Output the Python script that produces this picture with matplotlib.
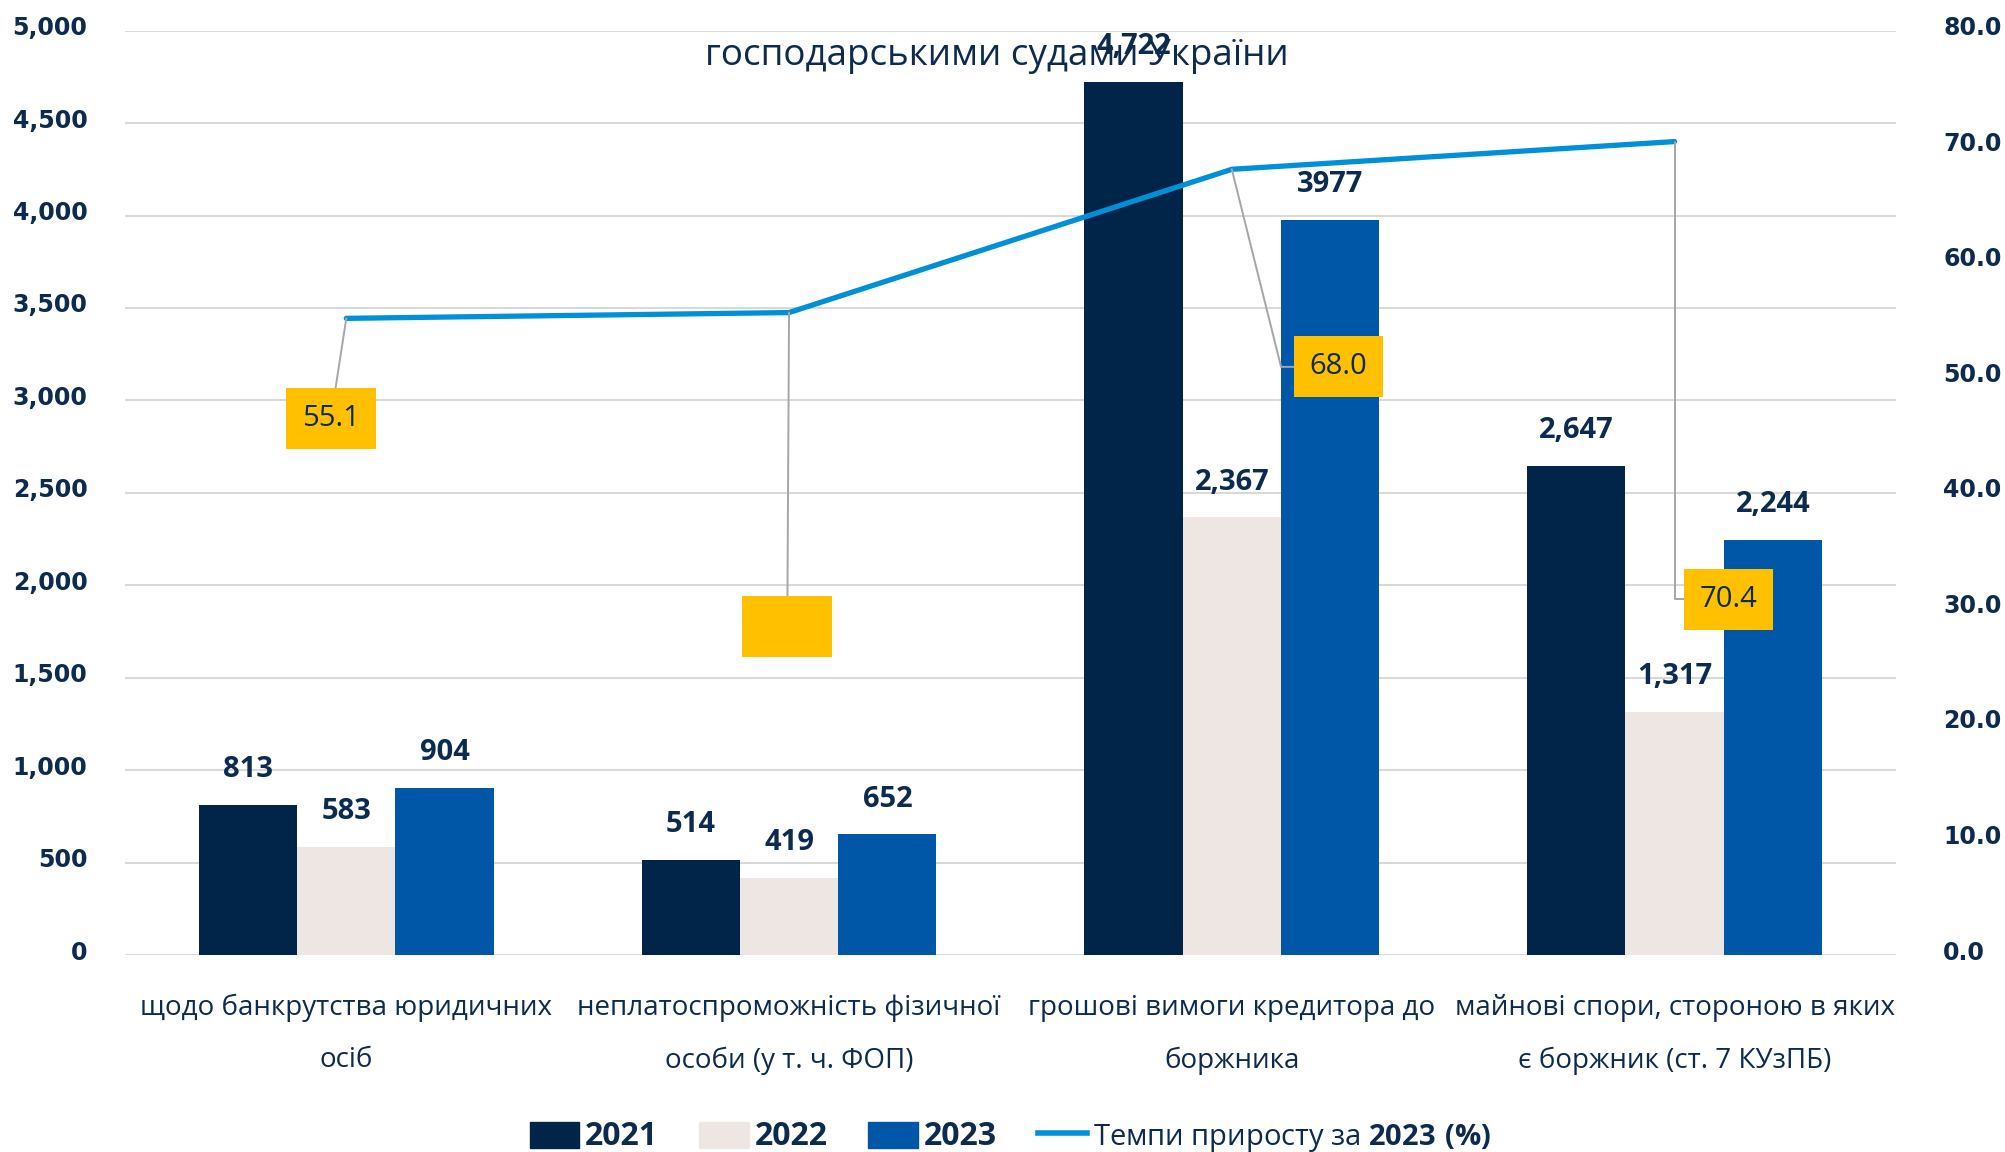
import numpy as np
import matplotlib.pyplot as plt
import matplotlib.transforms as mtransforms
from matplotlib.patches import Patch
from matplotlib.lines import Line2D

# data
categories = [
    "щодо банкрутства юридичних\nосіб",
    "неплатоспроможність фізичної\nособи (у т. ч. ФОП)",
    "грошові вимоги кредитора до\nборжника",
    "майнові спори, стороною в яких\nє боржник (ст. 7 КУзПБ)",
]
years = ["2021", "2022", "2023"]
v2021 = [813, 514, 4722, 2647]
v2022 = [583, 419, 2367, 1317]
v2023 = [904, 652, 3977, 2244]
lab2021 = ["813", "514", "4,722", "2,647"]
lab2022 = ["583", "419", "2,367", "1,317"]
lab2023 = ["904", "652", "3977", "2,244"]
growth = [55.1, 55.6, 68.0, 70.4]
growth_labels = ["55.1", "55.6", "68.0", "70.4"]
growth_label_shown = [True, False, True, True]
line_name = "Темпи приросту за $\\mathbf{2023\\ (\\%)}$"
title = "господарськими судами України"

# styles
NAVY = "#0D2B4E"
C2021 = "#002549"
C2022 = "#EEE6E2"
C2023 = "#0057A8"
CLINE = "#0090D8"
YELLOW = "#FFC000"
GRID = "#D9D9D9"
FONT = "Open Sans"

plt.rcParams["font.family"] = [FONT, "DejaVu Sans"]
plt.rcParams["mathtext.fontset"] = "custom"
plt.rcParams["mathtext.rm"] = FONT
plt.rcParams["mathtext.bf"] = FONT + ":bold"

fig = plt.figure(figsize=(20.05, 11.52), dpi=100)
ax = fig.add_axes([0.0623, 0.171, 0.8833, 0.8024])
ax2 = ax.twinx()

x = np.arange(len(categories))
w = 0.222
series = [(v2021, lab2021, C2021), (v2022, lab2022, C2022), (v2023, lab2023, C2023)]
for i, (vals, labs, col) in enumerate(series):
    bars = ax.bar(x + (i - 1) * w, vals, w, color=col, zorder=2)
    for b, lab in zip(bars, labs):
        ax.annotate(lab, (b.get_x() + b.get_width() / 2, b.get_height()),
                    xytext=(0, 15), textcoords="offset points",
                    ha="center", va="bottom", fontsize=21,
                    fontweight="bold", color=NAVY, zorder=3)

ax.set_xlim(-0.5, len(categories) - 0.5)
ax.set_ylim(0, 5000)
ax.set_yticks(np.arange(0, 5001, 500))
ax.set_yticklabels([f"{int(t):,}" for t in np.arange(0, 5001, 500)],
                   family="DejaVu Sans", fontweight="bold", fontsize=17,
                   color=NAVY)
ax.yaxis.grid(True, color=GRID, lw=1.5)
ax.set_axisbelow(True)
ax.set_xticks(x)
ax.set_xticklabels(categories, fontsize=20, color=NAVY, linespacing=2.15)
ax.tick_params(axis="both", length=0)
ax.tick_params(axis="y", pad=27)
ax.tick_params(axis="x", pad=28)

ax2.plot(x, growth, color=CLINE, lw=3.8, solid_capstyle="round", zorder=4)
ax2.set_ylim(0, 80)
ax2.set_yticks(np.arange(0, 81, 10))
ax2.set_yticklabels([f"{t:.1f}" for t in np.arange(0, 81, 10)],
                    family="DejaVu Sans", fontweight="bold", fontsize=17,
                    color=NAVY)
ax2.tick_params(axis="y", length=0, pad=34)

# tick labels sit a little above their gridlines in the original
shift = mtransforms.ScaledTranslation(0, 5 / 100, fig.dpi_scale_trans)
for lab in ax.get_yticklabels() + ax2.get_yticklabels():
    lab.set_transform(lab.get_transform() + shift)

for a in (ax, ax2):
    for s in a.spines.values():
        s.set_visible(False)

# yellow value boxes with leader lines
box_pos = [(-0.035, 46.4), (0.996, 28.4), (2.241, 50.9), (3.122, 30.8)]
box_conn = ["arc3", "arc3", "angle,angleA=0,angleB=-76,rad=0",
            "angle,angleA=0,angleB=90,rad=0"]
for xi, g, lab, shown, pos, conn in zip(x, growth, growth_labels,
                                         growth_label_shown, box_pos, box_conn):
    ax2.annotate(lab, (xi, g), xytext=pos, textcoords="data",
                 ha="center", va="center", fontsize=21,
                 color=NAVY if shown else YELLOW,
                 bbox=dict(boxstyle="square,pad=0.55", fc=YELLOW, ec="none"),
                 arrowprops=dict(arrowstyle="-", color="#A6A6A6", lw=1.4,
                                 shrinkA=0, shrinkB=0, connectionstyle=conn),
                 zorder=5)

fig.text(0.497, 1 - 56 / 1152, title, ha="center", va="center",
         fontsize=26.5, color=NAVY)

handles = [Patch(color=c) for c in (C2021, C2022, C2023)]
handles.append(Line2D([], [], color=CLINE, lw=4))
leg = fig.legend(handles, years + [line_name], loc="center",
                 bbox_to_anchor=(0.504, 1 - 1137 / 1152), ncol=4,
                 frameon=False, fontsize=21, handlelength=1.7,
                 handleheight=1.0, handletextpad=0.2, columnspacing=1.4)
for t in leg.get_texts()[:3]:
    t.set_fontweight("bold")
    t.set_fontsize(23)
for t in leg.get_texts():
    t.set_color(NAVY)

fig.savefig("out.png", dpi=100)
